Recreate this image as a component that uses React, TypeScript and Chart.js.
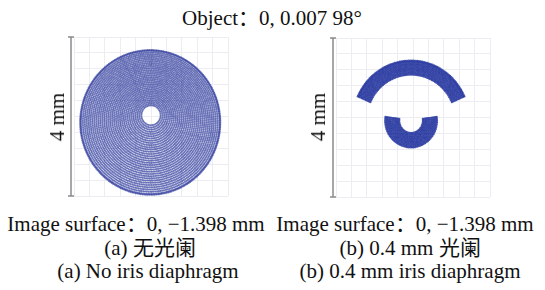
import React, { useEffect, useRef } from "react";
import { Chart, registerables } from "chart.js";

Chart.register(...registerables);

// ---- data ----
const AXIS_RANGE = [-2, 2]; // mm, 4 mm field
const GRID_STEP = 0.4;

// (a) no iris: full annular spot, ring radii in mm
const spotARadii = [0.25, 0.3, 0.35, 0.4, 0.45, 0.5, 0.55, 0.6, 0.65, 0.7, 0.75, 0.8, 0.85, 0.9, 0.95, 1.0, 1.05, 1.1, 1.15, 1.2, 1.25, 1.3, 1.35, 1.4, 1.45, 1.5, 1.55, 1.6, 1.65, 1.7, 1.75, 1.8, 1.82];
const spotAInnerCenter = [0, 0.03];
const spotAOuterCenter = [-0.02, -0.15];
const spotASpan = [0, 360];

// (b) 0.4 mm iris: two arc fragments
const spotBTopRadii = [1.16, 1.2, 1.24, 1.28, 1.32, 1.36, 1.4, 1.44, 1.48, 1.51];
const spotBTopSpan = [24, 156];
const spotBBottomRadii = [0.31, 0.35, 0.39, 0.43, 0.47, 0.51, 0.55, 0.59, 0.63, 0.67];
const spotBBottomSpan = [172, 368];
const spotBCenter = [-0.05, -0.08];

const RAY_SPACING = 0.045; // sampling density of rays along a ring (mm)

type Pt = { x: number; y: number };

function ringPoints(
  radii: number[],
  span: number[],
  centerIn: number[],
  centerOut: number[]
): Pt[] {
  const pts: Pt[] = [];
  const rMin = radii[0];
  const rMax = radii[radii.length - 1];
  radii.forEach((r) => {
    const t = rMax === rMin ? 0 : (r - rMin) / (rMax - rMin);
    const cx = centerIn[0] + (centerOut[0] - centerIn[0]) * t;
    const cy = centerIn[1] + (centerOut[1] - centerIn[1]) * t;
    const a0 = (span[0] * Math.PI) / 180;
    const a1 = (span[1] * Math.PI) / 180;
    const n = Math.max(4, Math.round(((a1 - a0) * r) / RAY_SPACING));
    const full = Math.abs(span[1] - span[0]) >= 360;
    for (let i = 0; i < (full ? n : n + 1); i++) {
      const a = a0 + ((a1 - a0) * i) / n;
      pts.push({ x: cx + r * Math.cos(a), y: cy + r * Math.sin(a) });
    }
  });
  return pts;
}

const scaleBarPlugin = {
  id: "scaleBar",
  afterDraw(chart: any) {
    const { ctx, chartArea, scales } = chart;
    const x = chartArea.left - 3;
    const y0 = scales.y.getPixelForValue(AXIS_RANGE[1]);
    const y1 = scales.y.getPixelForValue(AXIS_RANGE[0]);
    ctx.save();
    ctx.strokeStyle = "#8a8a8a";
    ctx.lineWidth = 1.5;
    ctx.beginPath();
    ctx.moveTo(x, y0);
    ctx.lineTo(x, y1);
    ctx.moveTo(x - 3, y0);
    ctx.lineTo(x + 3, y0);
    ctx.moveTo(x - 3, y1);
    ctx.lineTo(x + 3, y1);
    ctx.stroke();
    ctx.restore();
  },
};

function SpotChart({
  points,
  left,
  top,
  color,
  radius,
}: {
  points: Pt[];
  left: number;
  top: number;
  color: string;
  radius: number;
}) {
  const ref = useRef<HTMLCanvasElement | null>(null);
  useEffect(() => {
    if (!ref.current) return;
    const axis = (isY: boolean) => ({
      type: "linear" as const,
      min: AXIS_RANGE[0],
      max: AXIS_RANGE[1],
      ticks: { display: false, stepSize: GRID_STEP },
      grid: { color: "#ececf2", lineWidth: 1, drawTicks: false },
      border: { display: false },
      afterFit: (s: any) => {
        if (isY) s.width = 0;
        else s.height = 0;
      },
    });
    const chart = new Chart(ref.current, {
      type: "scatter",
      data: {
        datasets: [
          {
            data: points,
            pointRadius: radius,
            pointBorderWidth: 0,
            pointBackgroundColor: color,
          },
        ],
      },
      options: {
        animation: false,
        responsive: false,
        layout: { padding: { left: 14, top: 4, right: 6, bottom: 5 } },
        plugins: { legend: { display: false }, tooltip: { enabled: false } },
        scales: { x: axis(false), y: axis(true) },
      },
      plugins: [scaleBarPlugin],
    });
    return () => chart.destroy();
  }, [points, color, radius]);
  return (
    <canvas
      ref={ref}
      width={174}
      height={168}
      style={{ position: "absolute", left, top, width: 174, height: 168 }}
    />
  );
}

const FONT = '"Liberation Serif", Tinos, "DejaVu Serif", serif';

function Txt({
  x,
  y,
  children,
  rotate,
}: {
  x: number;
  y: number;
  children: React.ReactNode;
  rotate?: boolean;
}) {
  return (
    <div
      style={{
        position: "absolute",
        left: x,
        top: y,
        transform: `translate(-50%, -50%)${rotate ? " rotate(-90deg)" : ""}`,
        whiteSpace: "nowrap",
        fontFamily: FONT,
        fontSize: 21,
        lineHeight: "24px",
        color: "#111",
      }}
    >
      {children}
    </div>
  );
}

export default function App() {
  const pointsA = ringPoints(spotARadii, spotASpan, spotAInnerCenter, spotAOuterCenter);
  const pointsB = [
    ...ringPoints(spotBTopRadii, spotBTopSpan, spotBCenter, spotBCenter),
    ...ringPoints(spotBBottomRadii, spotBBottomSpan, spotBCenter, spotBCenter),
  ];
  return (
    <div
      lang="zh-CN"
      style={{
        position: "fixed",
        left: 0,
        top: 0,
        width: 545,
        height: 290,
        background: "#fff",
        overflow: "hidden",
      }}
    >
      <Txt x={272} y={18}>Object：0, 0.007 98°</Txt>
      <SpotChart points={pointsA} left={60} top={33} color="rgba(50,62,158,0.72)" radius={1.05} />
      <SpotChart points={pointsB} left={322} top={34} color="rgba(40,56,160,0.85)" radius={1.2} />
      <Txt x={57} y={117} rotate>4 mm</Txt>
      <Txt x={318} y={117} rotate>4 mm</Txt>
      <Txt x={136} y={224}>Image surface：0, −1.398 mm</Txt>
      <Txt x={405} y={224}>Image surface：0, −1.398 mm</Txt>
      <Txt x={150} y={248}>(a) 无光阑</Txt>
      <Txt x={410} y={248}>(b) 0.4 mm 光阑</Txt>
      <Txt x={148} y={271}>(a) No iris diaphragm</Txt>
      <Txt x={410} y={271}>(b) 0.4 mm iris diaphragm</Txt>
    </div>
  );
}
